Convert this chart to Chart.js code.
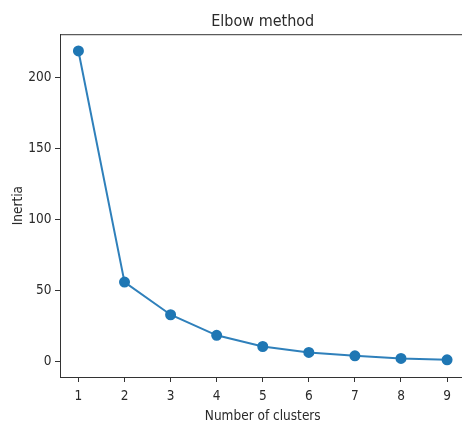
<!DOCTYPE html>
<html>
<head>
<meta charset="utf-8">
<script src="https://cdn.jsdelivr.net/npm/chart.js@4"></script>
<style>
  html, body { margin:0; padding:0; background:#fff; overflow:hidden; }
  #wrap { position:relative; width:466px; height:427px; }
</style>
</head>
<body>
<div id="wrap"><canvas id="grafica"></canvas></div>
<script>
// datos
let clusters = [1, 2, 3, 4, 5, 6, 7, 8, 9]
let inercia = [219, 56, 33, 18.5, 10.6, 6.4, 4.0, 2.2, 1.2]
let ticksX = [1, 2, 3, 4, 5, 6, 7, 8, 9]
let ticksY = [0, 50, 100, 150, 200]

let fuente = "'DejaVu Sans Condensed', 'DejaVu Sans', sans-serif"
let colorTexto = '#2a2a2a'
let azul = '#1f77b4'

// marco tipo matplotlib (el lado derecho queda fuera de la ventana)
const marco = {
  id: 'marco',
  afterDraw(chart) {
    let c = chart.ctx, a = chart.chartArea
    c.save()
    c.strokeStyle = '#333'
    c.lineWidth = 1
    c.strokeRect(a.left + 0.5, a.top + 0.5, a.right - a.left, a.bottom - a.top)
    c.restore()
  }
}

let puntos = clusters.map((k, i) => ({x: k, y: inercia[i]}))

new Chart(document.getElementById("grafica"), {
  type: 'line',
  data: {
    datasets: [{
      label: 'Inertia',
      data: puntos,
      borderColor: '#2f80bb',
      backgroundColor: azul,
      borderWidth: 2,
      pointRadius: 4.5,
      pointBackgroundColor: azul,
      pointBorderColor: azul,
      tension: 0,
      clip: false
    }]
  },
  options: {
    responsive: true,
    maintainAspectRatio: false,
    animation: false,
    layout: { autoPadding: false, padding: { left: 0, right: 0.5, top: 0, bottom: 0 } },
    plugins: {
      legend: { display: false },
      tooltip: { enabled: false },
      title: {
        display: true,
        fullSize: false,
        text: 'Elbow method',
        color: colorTexto,
        font: { family: fuente, size: 16, weight: 'normal' },
        padding: { top: 12, bottom: 3 }
      }
    },
    scales: {
      x: {
        type: 'linear',
        min: 0.6,
        max: 9.4,
        afterBuildTicks: s => { s.ticks = ticksX.map(v => ({value: v})) },
        afterFit: s => { s.height = 50; s.paddingLeft = 0; s.paddingRight = 0 },
        grid: { drawOnChartArea: false, drawTicks: true, tickLength: 5, color: '#333' },
        border: { display: true, color: '#333' },
        ticks: { color: colorTexto, padding: 6, font: { family: fuente, size: 13.5 } },
        title: {
          display: true,
          text: 'Number of clusters',
          color: colorTexto,
          font: { family: fuente, size: 13.5 },
          padding: { top: 2, bottom: 2 }
        }
      },
      y: {
        min: -10.9,
        max: 230.8,
        afterBuildTicks: s => { s.ticks = ticksY.map(v => ({value: v})) },
        afterFit: s => { s.width = 60; s.paddingTop = 0; s.paddingBottom = 0 },
        grid: { drawOnChartArea: false, drawTicks: true, tickLength: 5, color: '#333' },
        border: { display: true, color: '#333' },
        ticks: { color: colorTexto, padding: 3.5, font: { family: fuente, size: 13.5 } },
        title: {
          display: true,
          text: 'Inertia',
          color: colorTexto,
          font: { family: fuente, size: 13.5 },
          padding: { top: 10, bottom: 9 }
        }
      }
    }
  },
  plugins: [marco]
})
</script>
</body>
</html>
